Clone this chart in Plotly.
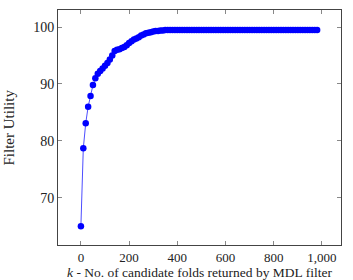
import plotly.graph_objects as go

k_values = [0, 10, 20, 30, 40, 50, 60, 70, 80, 90,
            100, 110, 120, 130, 140, 150, 160, 170, 180, 190,
            200, 210, 220, 230, 240, 250, 260, 270, 280, 290,
            300, 310, 320, 330, 340, 350, 360, 370, 380, 390,
            400, 410, 420, 430, 440, 450, 460, 470, 480, 490,
            500, 510, 520, 530, 540, 550, 560, 570, 580, 590,
            600, 610, 620, 630, 640, 650, 660, 670, 680, 690,
            700, 710, 720, 730, 740, 750, 760, 770, 780, 790,
            800, 810, 820, 830, 840, 850, 860, 870, 880, 890,
            900, 910, 920, 930, 940, 950, 960, 970, 980]
utility = [65.0, 78.7, 83.1, 86.0, 87.9, 89.8, 91.0, 91.8, 92.3, 92.7,
           93.2, 93.7, 94.3, 95.0, 95.8, 96.0, 96.1, 96.3, 96.5, 96.8,
           97.2, 97.5, 97.8, 98.0, 98.2, 98.5, 98.7, 98.9, 99.0, 99.1,
           99.2, 99.3, 99.3, 99.4, 99.4, 99.5, 99.5, 99.5, 99.5, 99.5,
           99.5, 99.5, 99.5, 99.5, 99.5, 99.5, 99.5, 99.5, 99.5, 99.5,
           99.5, 99.5, 99.5, 99.5, 99.5, 99.5, 99.5, 99.5, 99.5, 99.5,
           99.5, 99.5, 99.5, 99.5, 99.5, 99.5, 99.5, 99.5, 99.5, 99.5,
           99.5, 99.5, 99.5, 99.5, 99.5, 99.5, 99.5, 99.5, 99.5, 99.5,
           99.5, 99.5, 99.5, 99.5, 99.5, 99.5, 99.5, 99.5, 99.5, 99.5,
           99.5, 99.5, 99.5, 99.5, 99.5, 99.5, 99.5, 99.5, 99.5]

x_ticks = [0, 200, 400, 600, 800, 1000]
y_ticks = [70, 80, 90, 100]
x_title = "<i>k</i> - No. of candidate folds returned by MDL filter"
y_title = "Filter Utility"

FONT = "Liberation Serif, DejaVu Serif, serif"
W, H = 353, 280
ML, MR, MT, MB = 58, 12, 10, 35

fig = go.Figure()
fig.add_trace(go.Scatter(
    x=k_values, y=utility, mode="lines+markers",
    line=dict(color="#0000ff", width=0.7),
    marker=dict(color="#0000ff", size=6.5),
    showlegend=False,
))

axis_common = dict(
    showgrid=False, zeroline=False, showline=True, mirror="ticks",
    linecolor="#444", linewidth=1, ticks="inside", ticklen=4,
    tickcolor="#888", tickwidth=1,
    tickfont=dict(family=FONT, size=13, color="#222"),
)
fig.update_xaxes(range=[-95, 1079], tickvals=x_ticks, tickformat=",d", **axis_common)
fig.update_yaxes(range=[61.7, 103.0], tickvals=y_ticks,
                 **{**axis_common, "tickfont": dict(family=FONT, size=14, color="#222")})

pw = W - ML - MR
ph = H - MT - MB
fig.add_annotation(
    text=x_title, xref="paper", yref="paper",
    x=0.5, y=-(272.5 - (H - MB)) / ph,
    showarrow=False, xanchor="center", yanchor="middle",
    font=dict(family=FONT, size=13.5, color="#222"),
)
fig.add_annotation(
    text=y_title, xref="paper", yref="paper",
    x=-(ML - 8) / pw, y=0.5, textangle=-90,
    showarrow=False, xanchor="center", yanchor="middle",
    font=dict(family=FONT, size=15, color="#222"),
)

fig.update_layout(
    width=W, height=H,
    margin=dict(l=ML, r=MR, t=MT, b=MB),
    paper_bgcolor="white", plot_bgcolor="white",
)
fig.write_html("out.html")
